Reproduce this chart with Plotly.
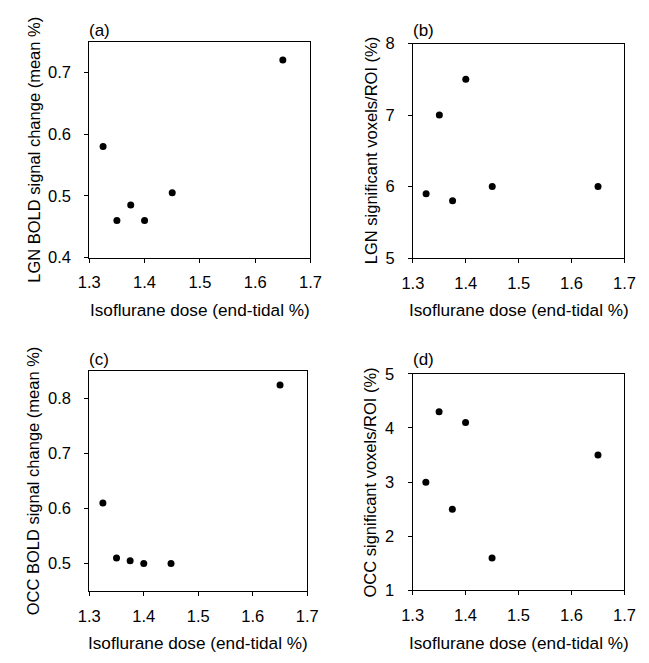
import plotly.graph_objects as go

# Isoflurane dose (end-tidal %) for the six sessions
dose = [1.325, 1.35, 1.375, 1.40, 1.45, 1.65]

# (a) LGN BOLD signal change (mean %)
lgn_bold = [0.58, 0.46, 0.485, 0.46, 0.505, 0.72]
# (b) LGN significant voxels/ROI (%)
lgn_vox = [5.9, 7.0, 5.8, 7.5, 6.0, 6.0]
# (c) OCC BOLD signal change (mean %)
occ_bold = [0.61, 0.51, 0.505, 0.50, 0.50, 0.825]
# (d) OCC significant voxels/ROI (%)
occ_vox = [3.0, 4.3, 2.5, 4.1, 1.6, 3.5]

panel_labels = ["(a)", "(b)", "(c)", "(d)"]
y_titles = [
    "LGN BOLD signal change (mean %)",
    "LGN significant voxels/ROI (%)",
    "OCC BOLD signal change (mean %)",
    "OCC significant voxels/ROI (%)",
]
x_title = "Isoflurane dose (end-tidal %)"

W, H = 649, 663
FONT = "Liberation Sans, Arial, sans-serif"


def fx(px):
    return px / W


def fy(py):
    return 1 - py / H


# plot boxes in pixels: (left, right, top, bottom)
boxes = [
    (81, 310, 33.5, 255.5),
    (416, 635, 35.5, 256),
    (81, 306.7, 372.3, 598.3),
    (415.7, 635, 375, 597.7),
]
y_ranges = [[0.4, 0.75], [5, 8], [0.45, 0.85], [1, 5]]
y_dticks = [0.1, 1, 0.1, 1]
series = [lgn_bold, lgn_vox, occ_bold, occ_vox]
label_rows = [22, 22, 360, 360]
xtitle_rows = [309, 309, 652, 652]
ytitle_cols = [23, 372, 23, 372]

fig = go.Figure()
annotations = []

for i, (vals, box) in enumerate(zip(series, boxes)):
    n = "" if i == 0 else str(i + 1)
    left, right, top, bottom = box
    fig.add_trace(go.Scatter(
        x=dose, y=vals, mode="markers",
        marker=dict(color="black", size=7),
        xaxis="x" + n, yaxis="y" + n, showlegend=False,
    ))
    axis_common = dict(
        showline=True, linecolor="black", linewidth=1, mirror=True,
        ticks="outside", ticklen=4, tickcolor="black", tickwidth=1,
        showgrid=False, zeroline=False,
        tickfont=dict(family=FONT, size=16.5, color="black"),
    )
    fig.update_layout(**{
        "xaxis" + n: dict(
            axis_common, domain=[fx(left), fx(right)], anchor="y" + n,
            range=[1.3, 1.7], dtick=0.1, tick0=1.3, tickformat=".1f",
            ticklabelstandoff=6,
        ),
        "yaxis" + n: dict(
            axis_common, domain=[fy(bottom), fy(top)], anchor="x" + n,
            range=y_ranges[i], dtick=y_dticks[i],
            ticklabelstandoff=10,
        ),
    })
    cx = (left + right) / 2
    cy = (top + bottom) / 2
    # panel label
    annotations.append(dict(
        text=panel_labels[i], x=fx(left - 2), y=fy(label_rows[i]),
        xref="paper", yref="paper", showarrow=False,
        xanchor="left", yanchor="middle",
        font=dict(family=FONT, size=17, color="black"),
    ))
    # x title
    annotations.append(dict(
        text=x_title, x=fx(cx), y=fy(xtitle_rows[i]),
        xref="paper", yref="paper", showarrow=False,
        xanchor="center", yanchor="middle",
        font=dict(family=FONT, size=17.2, color="black"),
    ))
    # y title
    annotations.append(dict(
        text=y_titles[i], x=fx(ytitle_cols[i]), y=fy(cy),
        xref="paper", yref="paper", showarrow=False, textangle=-90,
        xanchor="center", yanchor="middle",
        font=dict(family=FONT, size=16.5, color="black"),
    ))

fig.update_layout(
    width=W, height=H,
    margin=dict(l=0, r=0, t=0, b=0),
    paper_bgcolor="white", plot_bgcolor="white",
    annotations=annotations,
)

fig.write_html("out.html")
